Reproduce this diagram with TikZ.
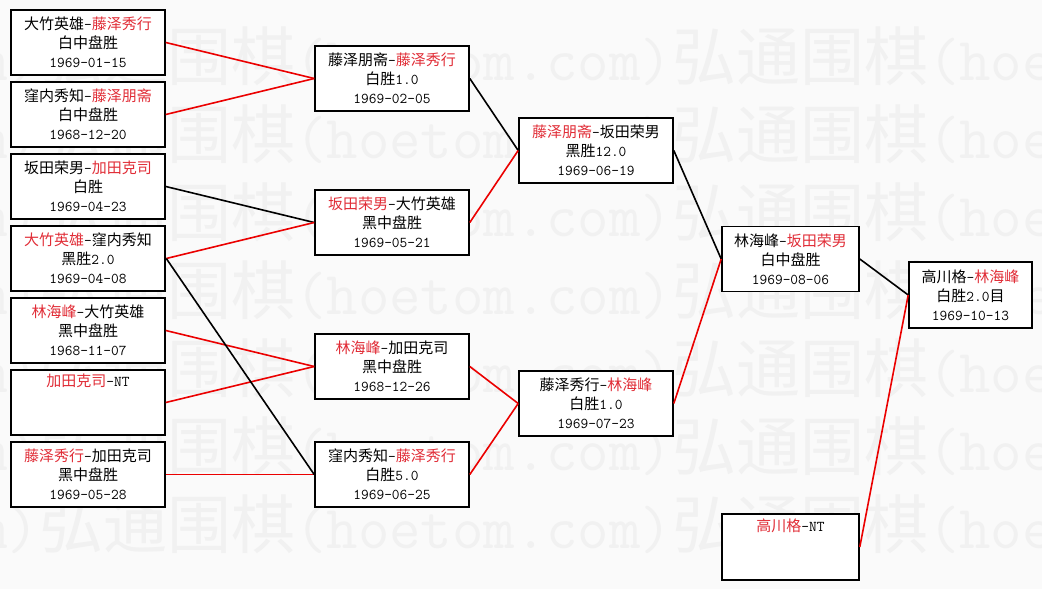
\documentclass[tikz,border=0pt]{standalone}
\usepackage{fontspec}
\usepackage{tikz}
\newfontfamily\cjk{Noto Sans CJK SC}
\definecolor{winred}{RGB}{225,45,55}
\definecolor{linkred}{RGB}{235,0,0}
\definecolor{paper}{RGB}{250,250,250}
\definecolor{wmgray}{RGB}{241,241,241}
\newcommand{\zh}[1]{{\cjk #1}}
\newcommand{\win}[1]{\textcolor{winred}{\cjk #1}}
\newcommand{\wmtext}{{\fontsize{64}{64}\selectfont\cjk 弘通围棋}(hoetom.com)}

\begin{document}
\begin{tikzpicture}[x=1pt,y=-1pt,
  game/.style={draw, fill=white, line width=1.6pt, inner sep=0pt,
    minimum width=154pt, minimum height=65pt, align=center,
    font=\ttfamily\fontsize{15}{19}\selectfont},
  link/.style={line width=1.6pt},
  wmark/.style={anchor=base west, inner sep=0pt, text=wmgray,
    font=\ttfamily\fontsize{61}{61}\selectfont}]
  % paper and page size
  \fill[paper] (0,0) rectangle (1042,589);
  \useasboundingbox (0,0) rectangle (1042,589);
  % watermark rows
  \begin{scope}
    \clip (0,0) rectangle (1042,589);
    \foreach \r in {0,...,6}
      \node[wmark] (wm\r) at (-594,80+78*\r) {\wmtext\wmtext\wmtext};
  \end{scope}
  % first round
  \node[game] (R1a) at (88,42.5)  {\zh{大竹英雄}-\win{藤泽秀行}\\\zh{白中盘胜}\\1969-01-15};
  \node[game] (R1b) at (88,114.5) {\zh{窪内秀知}-\win{藤泽朋斋}\\\zh{白中盘胜}\\1968-12-20};
  \node[game] (R1c) at (88,186.5) {\zh{坂田荣男}-\win{加田克司}\\\zh{白胜}\\1969-04-23};
  \node[game, line width=2.6pt] (R1d) at (88,258.5) {\win{大竹英雄}-\zh{窪内秀知}\\\zh{黑胜}2.0\\1969-04-08};
  \node[game] (R1e) at (88,330.5) {\win{林海峰}-\zh{大竹英雄}\\\zh{黑中盘胜}\\1968-11-07};
  \node[game] (R1f) at (88,402.5) {\win{加田克司}-NT\\\strut\\\strut};
  \node[game] (R1g) at (88,474.5) {\win{藤泽秀行}-\zh{加田克司}\\\zh{黑中盘胜}\\1969-05-28};
  % second round
  \node[game] (R2a) at (392,78.5)  {\zh{藤泽朋斋}-\win{藤泽秀行}\\\zh{白胜}1.0\\1969-02-05};
  \node[game] (R2b) at (392,222.5) {\win{坂田荣男}-\zh{大竹英雄}\\\zh{黑中盘胜}\\1969-05-21};
  \node[game] (R2c) at (392,366.5) {\win{林海峰}-\zh{加田克司}\\\zh{黑中盘胜}\\1968-12-26};
  \node[game] (R2d) at (392,474.5) {\zh{窪内秀知}-\win{藤泽秀行}\\\zh{白胜}5.0\\1969-06-25};
  % third round
  \node[game] (R3a) at (596,150.5) {\win{藤泽朋斋}-\zh{坂田荣男}\\\zh{黑胜}12.0\\1969-06-19};
  \node[game] (R3b) at (596,403.5) {\zh{藤泽秀行}-\win{林海峰}\\\zh{白胜}1.0\\1969-07-23};
  % fourth round
  \node[game, minimum width=137pt] (R4a) at (790.5,259) {\zh{林海峰}-\win{坂田荣男}\\\zh{白中盘胜}\\1969-08-06};
  \node[game, minimum width=137pt, minimum height=66pt] (R4b) at (790.5,547) {\win{高川格}-NT\\\strut\\\strut};
  % final
  \node[game, minimum width=123pt, minimum height=66pt] (R5) at (970.5,295) {\zh{高川格}-\win{林海峰}\\\zh{白胜}2.0\zh{目}\\1969-10-13};
  % links, red where the upper player of the next game came through
  \draw[link, linkred] (R1a.east) -- (R2a.west);
  \draw[link, linkred] (R1b.east) -- (R2a.west);
  \draw[link] (R1c.east) -- (R2b.west);
  \draw[link, linkred] (R1d.east) -- (R2b.west);
  \draw[link, linkred] (R1e.east) -- (R2c.west);
  \draw[link, linkred] (R1f.east) -- (R2c.west);
  \draw[link, linkred] (R1g.east) -- (R2d.west);
  \draw[link] (R1d.east) -- (R2d.west);
  \draw[link] (R2a.east) -- (R3a.west);
  \draw[link, linkred] (R2b.east) -- (R3a.west);
  \draw[link, linkred] (R2c.east) -- (R3b.west);
  \draw[link, linkred] (R2d.east) -- (R3b.west);
  \draw[link] (R3a.east) -- (R4a.west);
  \draw[link, linkred] (R3b.east) -- (R4a.west);
  \draw[link] (R4a.east) -- (R5.west);
  \draw[link, linkred] (R4b.east) -- (R5.west);
\end{tikzpicture}
\end{document}
